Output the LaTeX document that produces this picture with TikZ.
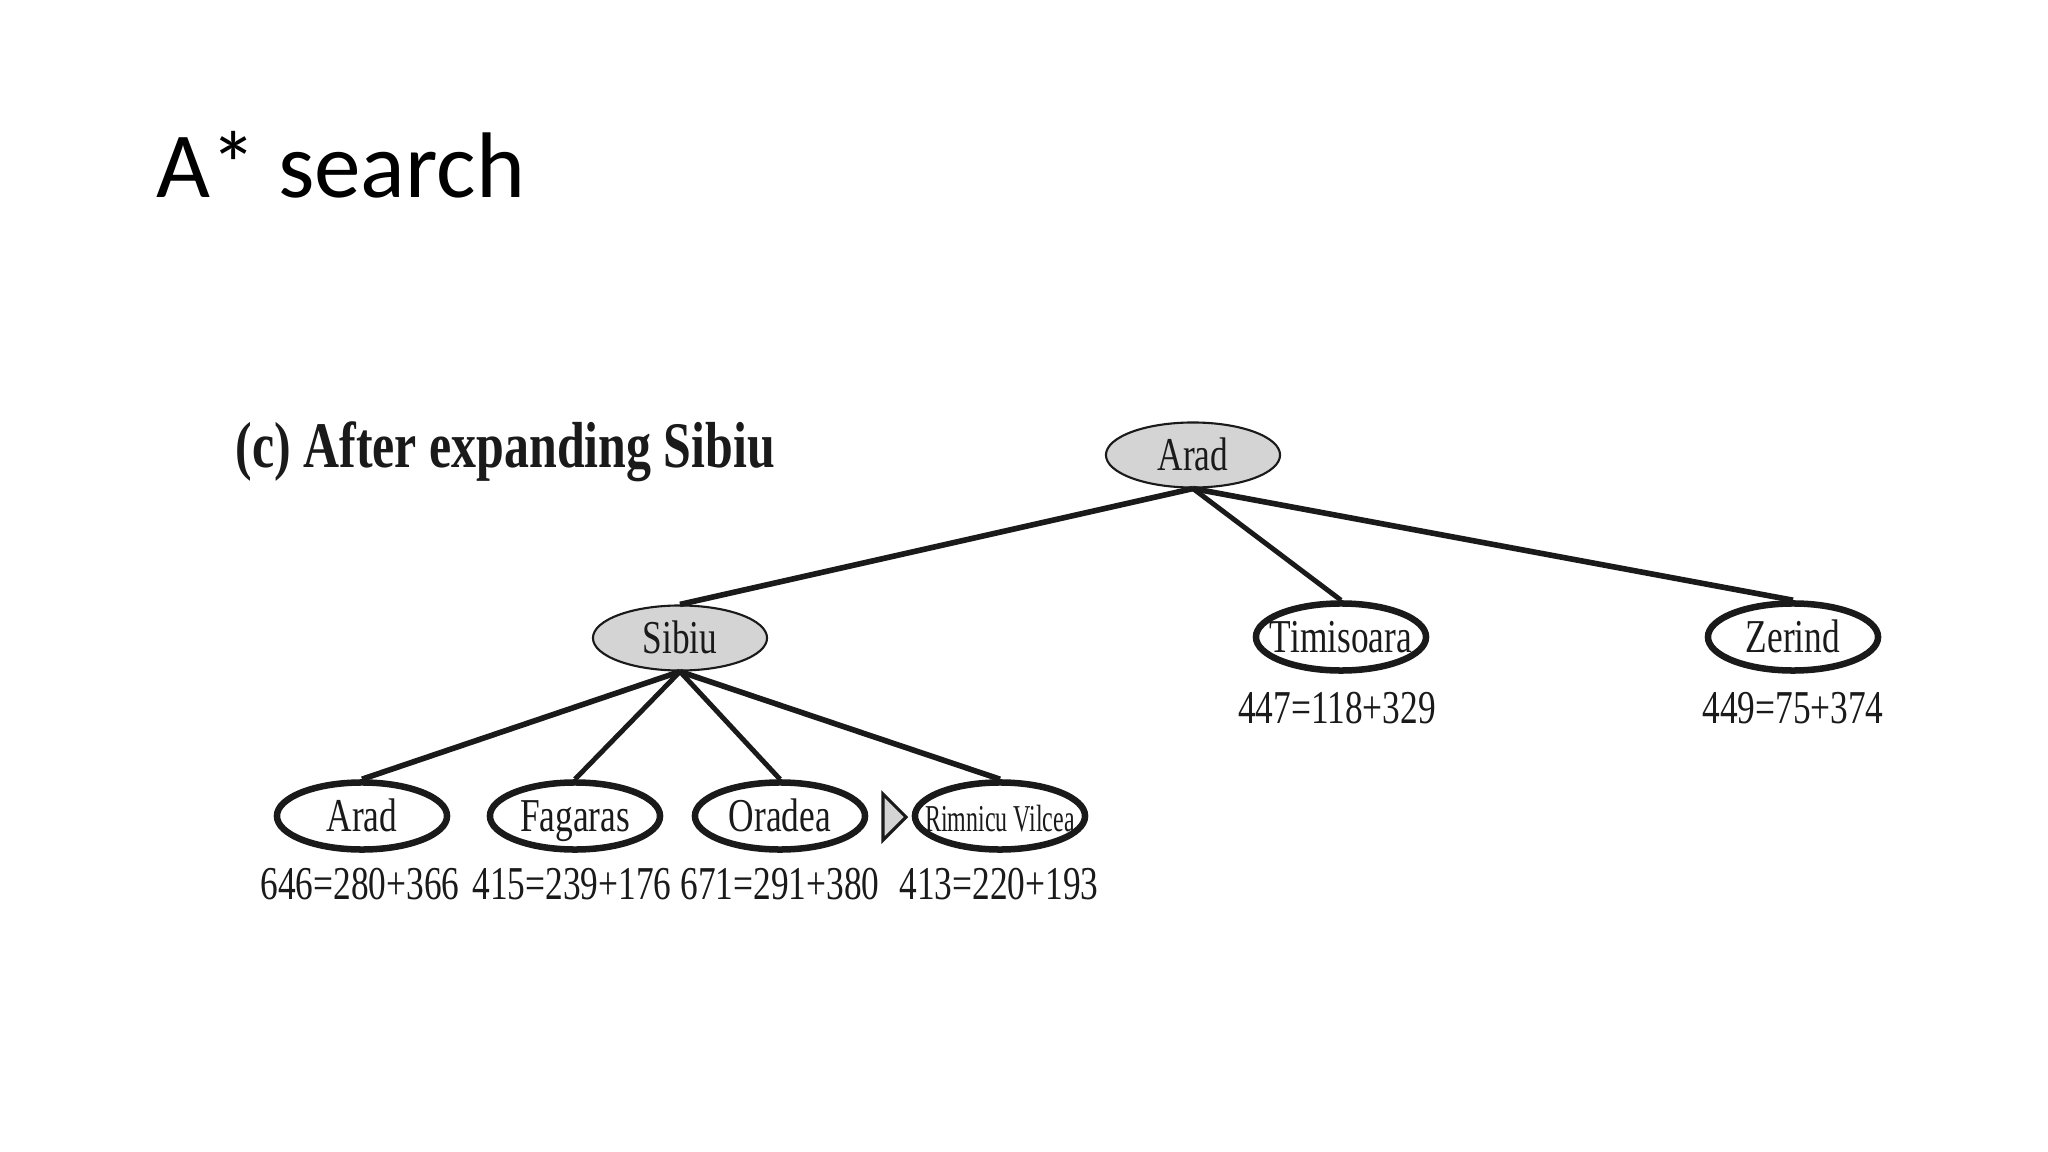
\documentclass[tikz,border=0pt]{standalone}
\usepackage{fontspec}
\setmainfont{Liberation Serif}
\newfontfamily\titlefont{Carlito}
\usetikzlibrary{shapes.geometric}
\newcommand\nodetxt[1]{\makebox[0pt]{\scalebox{0.75}[1]{\fontsize{13.4}{16}\selectfont #1}}}
\newcommand\smalltxt[1]{\makebox[0pt]{\scalebox{0.63}[1]{\fontsize{10.8}{13}\selectfont #1}}}
\newcommand\lbltxt[1]{\scalebox{0.75}[1]{\fontsize{13.4}{16}\selectfont #1}}
\definecolor{ink}{HTML}{1A1A1A}
\definecolor{nodegray}{HTML}{D4D4D4}
\begin{document}
\begin{tikzpicture}[x=0.01cm,y=-0.01cm,
  tnode/.style={ellipse, draw=ink, line width=1.85pt, fill=white, minimum width=1.70cm, minimum height=0.67cm, inner sep=0pt, text height=8.9pt, text depth=0pt, text=ink},
  gnode/.style={ellipse, draw=ink, line width=0.6pt, fill=nodegray, minimum width=1.74cm, minimum height=0.65cm, inner sep=0pt, text height=8.9pt, text depth=0pt, text=ink},
  edgeline/.style={line width=1.6pt, draw=ink},
  lbl/.style={inner sep=0pt, anchor=base, text=ink}]
\fill[white] (0,0) rectangle (2048,1152);
\useasboundingbox (0,0) rectangle (2048,1152);

\node[anchor=base west, inner sep=0pt] (title) at (156,198) {\titlefont\fontsize{26.5}{30}\selectfont A* search};
\node[anchor=base west, inner sep=0pt, text=ink] (caption) at (235,468) {\scalebox{0.767}[1]{\fontsize{18.5}{22}\selectfont\bfseries (c) After expanding Sibiu}};

\node[gnode] (root) at (1193,455) {\nodetxt{Arad}};
\node[gnode] (sibiu) at (680,638) {\nodetxt{Sibiu}};
\node[tnode] (tim) at (1341,637) {\nodetxt{Timisoara}};
\node[tnode] (zer) at (1793,637) {\nodetxt{Zerind}};
\node[tnode] (barad) at (362,816) {\nodetxt{Arad}};
\node[tnode] (fag) at (575,816) {\nodetxt{Fagaras}};
\node[tnode] (ora) at (780,816) {\nodetxt{Oradea}};
\node[tnode] (rim) at (1000,816) {\smalltxt{Rimnicu Vilcea}};

\draw[edgeline] (root.south) -- (sibiu.north);
\draw[edgeline, line width=1.4pt] (root.south) -- (tim.north);
\draw[edgeline] (root.south) -- (zer.north);
\draw[edgeline] (sibiu.south) -- (barad.north);
\draw[edgeline, line width=1.4pt] (sibiu.south) -- (fag.north);
\draw[edgeline, line width=1.4pt] (sibiu.south) -- (ora.north);
\draw[edgeline] (sibiu.south) -- (rim.north);

\node[lbl] (ltim) at (1337,723) {\lbltxt{447=118+329}};
\node[lbl] (lzer) at (1793,723) {\lbltxt{449=75+374}};
\node[lbl] (lbarad) at (360,899) {\lbltxt{646=280+366}};
\node[lbl] (lfag) at (572,899) {\lbltxt{415=239+176}};
\node[lbl] (lora) at (780,899) {\lbltxt{671=291+380}};
\node[lbl] (lrim) at (999,899) {\lbltxt{413=220+193}};

\draw[draw=ink, line width=0.9pt, fill=nodegray, line join=miter] (883,794) -- (906,817) -- (883,840) -- cycle;
\end{tikzpicture}
\end{document}
